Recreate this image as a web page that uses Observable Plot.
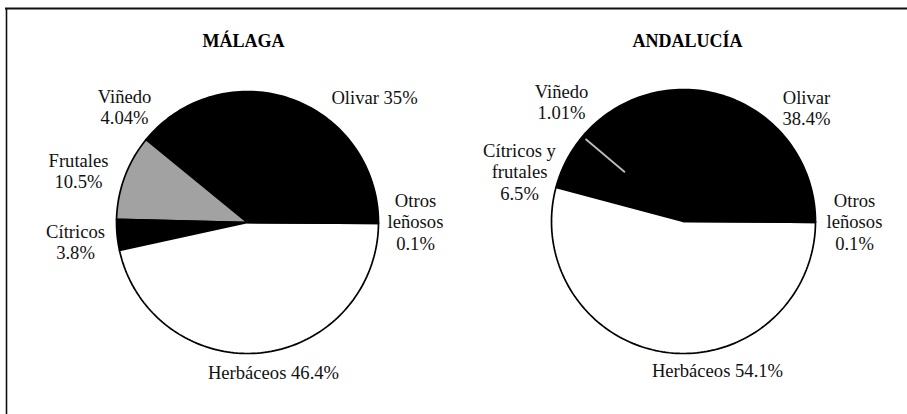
<!DOCTYPE html>
<html>
<head>
<meta charset="utf-8">
<script src="https://cdn.jsdelivr.net/npm/d3@7"></script>
<script src="https://cdn.jsdelivr.net/npm/@observablehq/plot@0.6"></script>
<style>
  html, body { margin: 0; padding: 0; background: #fff; }
  #chart { width: 907px; height: 414px; }
</style>
</head>
<body>
<div id="chart"></div>
<script>
// ---- Data ----
const titles = ["MÁLAGA", "ANDALUCÍA"];

const malagaCategories = ["Olivar", "Viñedo", "Frutales", "Cítricos", "Herbáceos", "Otros leñosos"];
const malagaValues     = [35, 4.04, 10.5, 3.8, 46.4, 0.1];
const malagaLabels     = ["Olivar 35%", "Viñedo\n4.04%", "Frutales\n10.5%", "Cítricos\n3.8%", "Herbáceos 46.4%", "Otros\nleñosos\n0.1%"];

const andaluciaCategories = ["Olivar", "Viñedo", "Cítricos y frutales", "Herbáceos", "Otros leñosos"];
const andaluciaValues     = [38.4, 1.01, 6.5, 54.1, 0.1];
const andaluciaLabels     = ["Olivar\n38.4%", "Viñedo\n1.01%", "Cítricos y\nfrutales\n6.5%", "Herbáceos 54.1%", "Otros\nleñosos\n0.1%"];

// ---- Styles / layout (not data) ----
const malagaFills    = ["#000", "#000", "#a2a2a2", "#000", "#fff", "#fff"];
const andaluciaFills = ["#000", "#000", "#000", "#fff", "#fff"];
// label placement: [dx, dy] from pie centre, in px
const malagaLabelPos    = [[127, -125], [-123, -116], [-169, -52], [-172, 19], [26, 150], [168, -1]];
const andaluciaLabelPos = [[123, -114], [-122, -120], [-164, -50], [34, 149], [171, 0]];

const W = 907, H = 414;
const pies = [
  {title: titles[0], cats: malagaCategories, vals: malagaValues, labels: malagaLabels, fills: malagaFills, lpos: malagaLabelPos, cx: 247, cy: 222, r: 131, tx: 243},
  {title: titles[1], cats: andaluciaCategories, vals: andaluciaValues, labels: andaluciaLabels, fills: andaluciaFills, lpos: andaluciaLabelPos, cx: 683, cy: 221, r: 132, tx: 687}
];

const polys = [], texts = [], heads = [], streaks = [];
for (const p of pies) {
  const total = d3.sum(p.vals);
  let a = 0; // degrees, counter-clockwise from east
  p.vals.forEach((v, i) => {
    const a0 = a, a1 = a + v / total * 360;
    a = a1;
    const key = p.title + "-" + i;
    const pts = [{key, fill: p.fills[i], x: p.cx, y: p.cy}];
    const n = Math.max(2, Math.ceil((a1 - a0) / 1.5));
    for (let k = 0; k <= n; k++) {
      const t = (a0 + (a1 - a0) * k / n) * Math.PI / 180;
      pts.push({key, fill: p.fills[i], x: p.cx + p.r * Math.cos(t), y: p.cy - p.r * Math.sin(t)});
    }
    pts.push({key, fill: p.fills[i], x: p.cx, y: p.cy});
    polys.push(...pts);
    texts.push({x: p.cx + p.lpos[i][0], y: p.cy + p.lpos[i][1], text: p.labels[i]});
    // thin light streak for the Andalucía vineyard sliver (as printed)
    if (p.title === titles[1] && p.cats[i] === "Viñedo") {
      const t = ((a0 + a1) / 2) * Math.PI / 180;
      streaks.push({x1: p.cx + 0.58 * p.r * Math.cos(t), y1: p.cy - 0.58 * p.r * Math.sin(t),
                    x2: p.cx + 0.97 * p.r * Math.cos(t), y2: p.cy - 0.97 * p.r * Math.sin(t)});
    }
  });
  heads.push({x: p.tx, y: 41, text: p.title});
}

const chart = Plot.plot({
  width: W, height: H,
  margin: 0,
  x: {domain: [0, W], axis: null},
  y: {domain: [0, H], range: [0, H], axis: null},
  color: {type: "identity"},
  style: {fontFamily: "'Liberation Serif', 'DejaVu Serif', serif", background: "#fff"},
  marks: [
    // frame lines (top and left only, as in the scan)
    Plot.ruleY([8], {x1: 5, x2: W, stroke: "#111", strokeWidth: 2}),
    Plot.ruleX([6], {y1: 8, y2: H, stroke: "#111", strokeWidth: 1.6}),
    Plot.line(polys, {x: "x", y: "y", z: "key", fill: "fill", stroke: "#000", strokeWidth: 1.7, strokeLinejoin: "round", curve: "linear"}),
    Plot.link(streaks, {x1: "x1", y1: "y1", x2: "x2", y2: "y2", stroke: "#bdbdbd", strokeWidth: 1.8}),
    Plot.text(texts, {x: "x", y: "y", text: "text", fontSize: 18.6, lineHeight: 1.15, fill: "#111", textAnchor: "middle"}),
    Plot.text(heads, {x: "x", y: "y", text: "text", fontSize: 18, fontWeight: "bold", fill: "#000", textAnchor: "middle"})
  ]
});
document.getElementById("chart").appendChild(chart);
</script>
</body>
</html>
